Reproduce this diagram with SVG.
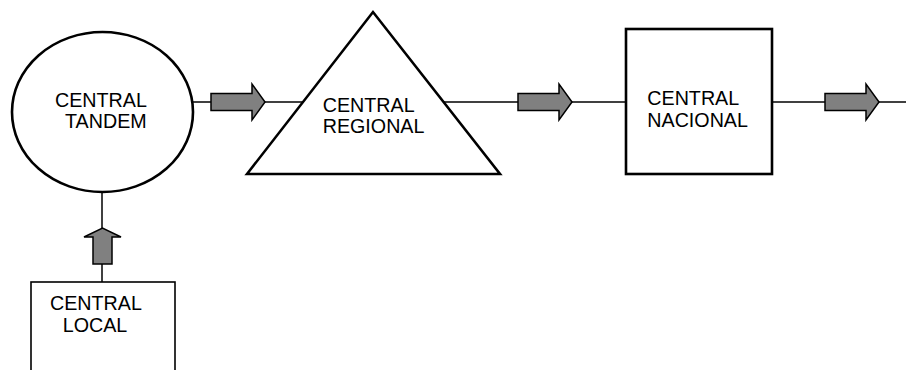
<svg xmlns="http://www.w3.org/2000/svg" width="906" height="370" viewBox="0 0 906 370">
<style>
.shape{fill:#fff;stroke:#000;stroke-width:2.6}
.thin{fill:#fff;stroke:#000;stroke-width:1.6}
.conn{fill:none;stroke:#000;stroke-width:1.5}
.arr{fill:#808080;stroke:#000;stroke-width:1.5;stroke-linejoin:miter}
text{font-family:"Liberation Sans",Arial,sans-serif;font-size:19.7px;fill:#000}
</style>
<defs>
<path id="harrow" d="M-54,-8.5 L-13,-8.5 L-13,-18 L0,0 L-13,18 L-13,8.5 L-54,8.5 Z"/>
</defs>
<rect width="906" height="370" fill="#fff"/>
<g id="connectors">
<line class="conn" x1="193" y1="102" x2="303" y2="102"/>
<line class="conn" x1="444" y1="102" x2="626" y2="102"/>
<line class="conn" x1="772" y1="102" x2="906" y2="102"/>
<line class="conn" x1="102" y1="192" x2="102" y2="282"/>
<use href="#harrow" class="arr" transform="translate(265,102)"/>
<use href="#harrow" class="arr" transform="translate(572,102)"/>
<use href="#harrow" class="arr" transform="translate(879,102)"/>
<path class="arr" d="M93,264 L93,237 L84,237 L102.5,228 L121,237 L112,237 L112,264 Z"/>
</g>
<g id="tandem">
<ellipse class="shape" cx="102.5" cy="112" rx="90.5" ry="80"/>
<text x="55" y="106.5">CENTRAL</text>
<text x="65" y="127.7">TANDEM</text>
</g>
<g id="regional">
<polygon class="shape" points="247,174 373,12 500,174"/>
<text x="322.7" y="111.7">CENTRAL</text>
<text x="322.7" y="133">REGIONAL</text>
</g>
<g id="nacional">
<rect class="shape" x="626" y="29" width="146" height="145"/>
<text x="647.3" y="105">CENTRAL</text>
<text x="647.3" y="126.7">NACIONAL</text>
</g>
<g id="local">
<rect class="thin" x="31" y="282" width="144" height="100"/>
<text x="50" y="310">CENTRAL</text>
<text x="62.7" y="331.7">LOCAL</text>
</g>
</svg>
